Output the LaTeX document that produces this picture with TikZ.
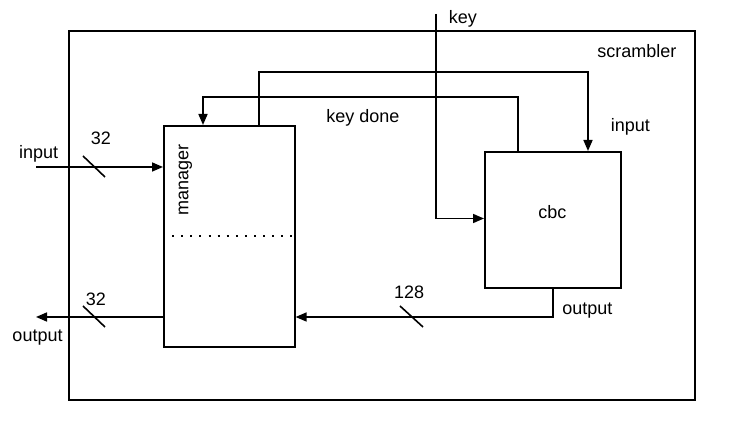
\documentclass[tikz,border=0pt]{standalone}
\usepackage{fontspec}
\setmainfont{Liberation Sans}
\usetikzlibrary{arrows.meta,calc}
\begin{document}
\begin{tikzpicture}[x=1pt,y=-1pt, line width=1.6pt,
  font=\fontsize{18}{21}\selectfont,
  box/.style={draw, rectangle, inner sep=0pt, line width=1.6pt},
  arr/.style={-{Triangle[length=11pt,width=9pt]}},
  lbl/.style={inner sep=0pt, anchor=base west},
  busmark/.style={line width=1.6pt}]
\useasboundingbox (0,0) rectangle (740,427);
% boxes
\node[box, minimum width=626pt, minimum height=369pt, anchor=north west] (scr) at (68,30.5) {};
\node[box, minimum width=131pt, minimum height=221.5pt, anchor=north west] (mgr) at (163,125) {};
\node[box, minimum width=136pt, minimum height=136pt, anchor=north west] (cbc) at (484,151) {};
% dotted divider
\coordinate (dotrow) at (0,236);
\draw[line width=2pt, dash pattern=on 2pt off 7.1pt] (mgr.west |- dotrow) -- (mgr.east |- dotrow);
% helper coordinates
\coordinate (keytop) at (436,14);
\coordinate (keyrow) at (0,218.5);
\coordinate (dx) at (259,72);
\coordinate (ix) at (588,72);
\coordinate (kd1) at (518,97);
\coordinate (kd2) at (203,97);
\coordinate (ox) at (553,317);
\coordinate (inL) at (36,167);
\coordinate (outL) at (36,317);
% connectors
\draw[arr] (keytop) |- (cbc.west |- keyrow);
\draw[arr] (mgr.north -| dx) -- (dx) -- (ix) -- (cbc.north -| ix);
\draw[arr] (cbc.north -| kd1) -- (kd1) -- (kd2) -- (mgr.north -| kd2);
\draw[arr] (cbc.south -| ox) -- (ox) -- (mgr.east |- ox);
\draw[arr] (inL) -- (mgr.west |- inL);
\draw[arr] (mgr.west |- outL) -- (outL);
% bus width marks
\draw[busmark] (83,156) -- (105,177);
\draw[busmark] (83,306) -- (105,327);
\draw[busmark] (400,306) -- (423,327);
% labels
\node[lbl] (lkey) at (448,24) {key};
\node[lbl] (lscr) at (596.5,57.5) {scrambler};
\node[lbl] (lkd) at (325.5,122.5) {key done};
\node[lbl] (lcin) at (610,131.5) {input};
\node[lbl] (lcbc) at (537.5,218.3) {cbc};
\node[lbl] (l128) at (393.3,298.7) {128};
\node[lbl] (lcout) at (561.5,314.3) {output};
\node[lbl] (l32a) at (90,145) {32};
\node[lbl] (lin) at (18.3,159) {input};
\node[lbl] (l32b) at (85,305.7) {32};
\node[lbl] (lout) at (11.7,341.7) {output};
\node[lbl, rotate=90] (lmgr) at (188.3,216.7) {manager};
\end{tikzpicture}
\end{document}
